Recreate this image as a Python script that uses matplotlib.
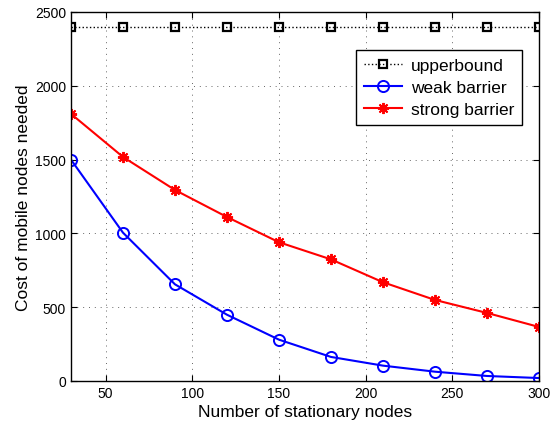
import numpy as np
import matplotlib
matplotlib.use('Agg')
import matplotlib.pyplot as plt

plt.rcParams['font.family'] = ['Liberation Sans', 'DejaVu Sans']

nodes = [30, 60, 90, 120, 150, 180, 210, 240, 270, 300]
upperbound = [2400, 2400, 2400, 2400, 2400, 2400, 2400, 2400, 2400, 2400]
weak = [1500, 1005, 655, 449, 280, 163, 104, 63, 34, 20]
strong = [1810, 1518, 1294, 1111, 940, 824, 669, 549, 461, 366]

fig = plt.figure(figsize=(5.5, 4.27), dpi=100)
ax = fig.add_axes([0.129, 0.1054, 0.851, 0.8642])

ax.plot(nodes, upperbound, ':', color='black', marker='s', markersize=6,
        markerfacecolor='none', markeredgewidth=1.6, linewidth=1.0, label='upperbound')
ax.plot(nodes, weak, '-', color='blue', marker='o', markersize=8,
        markerfacecolor='none', markeredgewidth=1.4, linewidth=1.5, label='weak barrier')
ax.plot(nodes, strong, '-', color='red', marker=(8, 2, 0), markersize=8,
        markeredgewidth=1.4, linewidth=1.5, label='strong barrier')

ax.set_xlim(30, 300)
ax.set_ylim(0, 2500)
ax.set_xticks([50, 100, 150, 200, 250, 300])
ax.set_yticks([0, 500, 1000, 1500, 2000, 2500])
ax.tick_params(direction='in', labelsize=10, top=True, right=True, length=4)
ax.grid(True, linestyle=(0, (1, 5)), color='#666666', linewidth=0.7)
for s in ax.spines.values():
    s.set_linewidth(1.0)

ax.set_xlabel('Number of stationary nodes', fontsize=12.5, labelpad=3)
ax.set_ylabel('Cost of mobile nodes needed', fontsize=12.5, labelpad=3)

leg = ax.legend(loc='upper right', bbox_to_anchor=(0.9637, 0.897), fontsize=12.5,
                fancybox=False, framealpha=1, edgecolor='black',
                borderpad=0.45, labelspacing=0.4, handlelength=2.2,
                handletextpad=0.5, borderaxespad=0)
leg.get_frame().set_linewidth(1.0)

plt.savefig('out.png')
